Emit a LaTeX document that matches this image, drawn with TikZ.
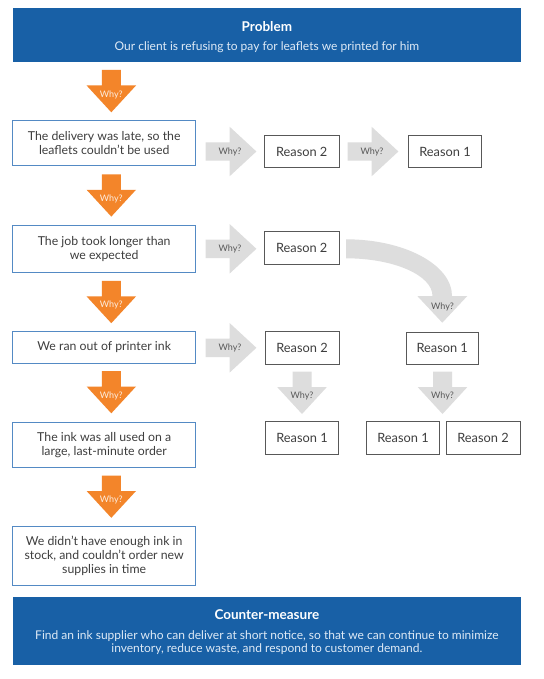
\documentclass[tikz,border=0pt]{standalone}
\usepackage{fontspec}
\setmainfont{Lato}
\definecolor{bannerblue}{RGB}{24,96,166}
\definecolor{boxblue}{RGB}{84,138,196}
\definecolor{whyorange}{RGB}{243,133,42}
\definecolor{whygray}{RGB}{221,221,221}
\definecolor{txtgray}{RGB}{62,62,62}
\definecolor{rgray}{RGB}{88,88,88}
\definecolor{sublight}{RGB}{222,234,246}
\newcommand\whydn[5]{% #1 fill style, #2 x centre, #3 y top, #4 text style, #5 name
  \fill[#1] (#2-9.5,#3) -- (#2+9.5,#3) -- (#2+9.5,#3+15.5) -- (#2+24.7,#3+15.5)
    -- (#2,#3+42.3) -- (#2-24.7,#3+15.5) -- (#2-9.5,#3+15.5) -- cycle;
  \node[#4] (#5) at (#2,#3+24.5) {Why?};}
\newcommand\whyrt[3]{% #1 x left, #2 y centre, #3 name
  \fill[grayarrow] (#1,#2-9.2) -- (#1+24,#2-9.2) -- (#1+24,#2-24.7) -- (#1+50.7,#2)
    -- (#1+24,#2+24.7) -- (#1+24,#2+9.2) -- (#1,#2+9.2) -- cycle;
  \node[whyg] (#3) at (#1+24.3,#2) {Why?};}
\begin{document}
\begin{tikzpicture}[x=1pt,y=-1pt,
  banner/.style={fill=bannerblue, draw=none, inner sep=0, outer sep=0},
  titletxt/.style={text=white, font=\fontsize{13.5}{15}\selectfont\bfseries, inner sep=0},
  subtxt/.style={text=sublight, font=\fontsize{12}{13.5}\selectfont, inner sep=0, align=center},
  lbox/.style={draw=boxblue, line width=1.1pt, fill=white, inner sep=0, outer sep=0,
    minimum width=183, align=center, text=txtgray, font=\fontsize{12.3}{14}\selectfont},
  rbox/.style={draw=rgray, line width=0.9pt, fill=white, inner sep=0, outer sep=0,
    minimum height=32, text=txtgray, font=\fontsize{12.8}{14}\selectfont},
  orangearrow/.style={fill=whyorange},
  grayarrow/.style={fill=whygray},
  whyo/.style={text=white!85!whyorange, font=\fontsize{9}{10}\selectfont, inner sep=0},
  whyg/.style={text=rgray, font=\fontsize{9}{10}\selectfont, inner sep=0}]
\useasboundingbox (0,0) rectangle (543,679);
\fill[white] (0,0) rectangle (543,679);

% top banner
\node[banner, minimum width=508.3, minimum height=54] (prob) at (266.9,34.7) {};
\node[titletxt] (probt) at (266.9,26.7) {Problem};
\node[subtxt] (probs) at (266.9,47) {Our client is refusing to pay for leaflets we printed for him};

% left column boxes
\node[lbox, minimum height=45] (b1) at (104.2,143.2) {The delivery was late, so the\\leaflets couldn't be used};
\node[lbox, minimum height=47.3] (b2) at (104.2,248.7) {The job took longer than\\we expected};
\node[lbox, minimum height=31.6] (b3) at (104.2,347.5) {We ran out of printer ink};
\node[lbox, minimum height=45.4] (b4) at (104.2,445) {The ink was all used on a\\large, last-minute order};
\node[lbox, minimum height=59.7] (b5) at (104.2,555.9) {We didn't have enough ink in\\stock, and couldn't order new\\supplies in time};

% orange why arrows
\whydn{orangearrow}{111.3}{70}{whyo}{w1}
\whydn{orangearrow}{111.3}{174.3}{whyo}{w2}
\whydn{orangearrow}{111.3}{280.9}{whyo}{w3}
\whydn{orangearrow}{111.3}{371}{whyo}{w4}
\whydn{orangearrow}{111.3}{475.5}{whyo}{w5}

% reason boxes
\node[rbox, minimum width=74.7, minimum height=31.6] (r12) at (301.7,151.5) {Reason 2};
\node[rbox, minimum width=73.4, minimum height=31.6] (r11) at (445,151.5) {Reason 1};
\node[rbox, minimum width=74.7, minimum height=32.3] (r22) at (301.7,247.9) {Reason 2};
\node[rbox, minimum width=74, minimum height=32.3] (r32) at (302,347.9) {Reason 2};
\node[rbox, minimum width=72.3, minimum height=31.7] (r31) at (442.2,348.2) {Reason 1};
\node[rbox, minimum width=72.6, minimum height=32.3] (r41a) at (302,437.9) {Reason 1};
\node[rbox, minimum width=72.6, minimum height=32.3] (r41b) at (403,437.9) {Reason 1};
\node[rbox, minimum width=74, minimum height=32.3] (r42) at (483,437.9) {Reason 2};

% gray right arrows
\whyrt{205.7}{151.5}{g1}
\whyrt{347.7}{151.5}{g2}
\whyrt{205.7}{248.8}{g3}
\whyrt{205.7}{347.8}{g4}

% gray down arrows
\whydn{grayarrow}{302}{371.7}{whyg}{g5}
\whydn{grayarrow}{442.5}{371.7}{whyg}{g6}

% curved arrow
\fill[grayarrow] (346,239.3) .. controls (404.5,239.3) and (452,264.7) .. (452,296)
  -- (467.3,296) -- (442.3,322.7) -- (417.3,296) -- (432.5,296)
  .. controls (432.5,275.2) and (393.7,258.3) .. (346,258.3) -- cycle;
\node[whyg] (g7) at (442.5,306.5) {Why?};

% bottom banner
\node[banner, minimum width=508.3, minimum height=68.3] (cm) at (266.9,630.9) {};
\node[titletxt] (cmt) at (266.9,615) {Counter-measure};
\node[subtxt] (cms) at (266.9,642.5) {Find an ink supplier who can deliver at short notice, so that we can continue to minimize\\inventory, reduce waste, and respond to customer demand.};
\end{tikzpicture}
\end{document}
